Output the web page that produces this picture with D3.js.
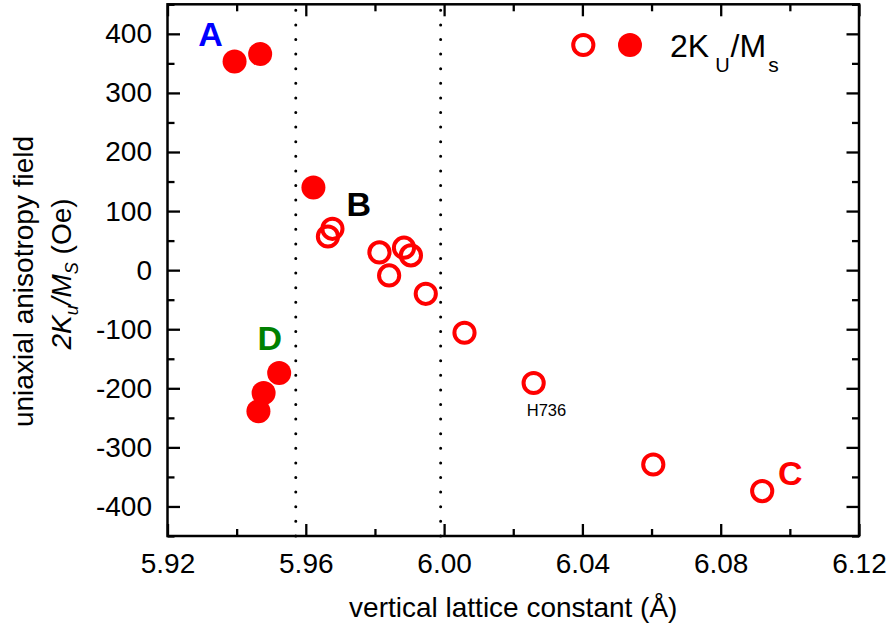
<!DOCTYPE html>
<html>
<head>
<meta charset="utf-8">
<script src="https://cdn.jsdelivr.net/npm/d3@7"></script>
<style>
  body { margin: 0; background: #fff; }
  svg { display: block; }
  text { font-family: "Liberation Sans", Arial, sans-serif; }
</style>
</head>
<body>
<svg id="chart" width="890" height="628"></svg>
<script>
// Open symbols
const openX = [5.9664, 5.9677, 5.9813, 5.9884, 5.9904, 5.9841, 5.9947, 6.0059, 6.0259, 6.0605, 6.0920];
const openY = [57, 70, 30, 38, 25, -9, -40, -106, -191, -329, -374];
// Filled symbols
const filledX = [5.9394, 5.9468, 5.9622, 5.9523, 5.9478, 5.9463];
const filledY = [353, 366, 140, -174, -208, -239];
// Dotted boundaries (vertical lattice constant)
const boundaryX = [5.9571, 5.999];
// Axis ticks
const xTicks = [5.92, 5.96, 6.00, 6.04, 6.08, 6.12];
const xMinor = [5.94, 5.98, 6.02, 6.06, 6.10];
const yTicks = [-400, -300, -200, -100, 0, 100, 200, 300, 400];
const yMinor = [-450, -350, -250, -150, -50, 50, 150, 250, 350, 450];
// Group letters and their anchors (data units)
const groupLabels = ["A", "B", "C", "D"];
const groupColors = ["#0000ff", "#000000", "#ff0000", "#008000"];
const groupLabelX = [5.9289, 5.9718, 6.0966, 5.946];
const groupLabelY = [380, 92, -363, -135];
// Sample name
const sampleLabel = ["H736"];
const sampleLabelX = [6.0239];
const sampleLabelY = [-247];

const RED = "#ff0000";
const svg = d3.select("#chart");

const x = d3.scaleLinear().domain([5.92, 6.12]).range([167.5, 859]);
const y = d3.scaleLinear().domain([-450, 450]).range([536, 4.3]);

const plot = svg.append("g");

// Dotted vertical boundaries
plot.selectAll("line.boundary")
  .data(boundaryX)
  .join("line")
  .attr("class", "boundary")
  .attr("x1", d => x(d)).attr("x2", d => x(d))
  .attr("y1", y(450) + 6).attr("y2", y(-450))
  .attr("stroke", "#000")
  .attr("stroke-width", 3)
  .attr("stroke-linecap", "round")
  .attr("stroke-dasharray", "0,14.6");

// Axes with inward ticks
function styleAxis(g) {
  g.select(".domain").remove();
  g.selectAll(".tick line").attr("stroke", "#000").attr("stroke-width", 2.3);
  g.selectAll("text").attr("font-size", 28).attr("fill", "#000")
    .attr("font-family", "'Liberation Sans', Arial, sans-serif");
}

svg.append("g").attr("transform", `translate(0,${y(-450)})`)
  .call(d3.axisBottom(x).tickValues(xTicks).tickFormat(d => d.toFixed(2))
    .tickSizeInner(-12).tickSizeOuter(0).tickPadding(17))
  .call(styleAxis);
svg.append("g").attr("transform", `translate(0,${y(-450)})`)
  .call(d3.axisBottom(x).tickValues(xMinor).tickFormat("").tickSizeInner(-7).tickSizeOuter(0))
  .call(styleAxis);
svg.append("g").attr("transform", `translate(0,${y(450)})`)
  .call(d3.axisTop(x).tickValues(xTicks).tickFormat("").tickSizeInner(-12).tickSizeOuter(0))
  .call(styleAxis);
svg.append("g").attr("transform", `translate(0,${y(450)})`)
  .call(d3.axisTop(x).tickValues(xMinor).tickFormat("").tickSizeInner(-7).tickSizeOuter(0))
  .call(styleAxis);

svg.append("g").attr("transform", `translate(${x(5.92)},0)`)
  .call(d3.axisLeft(y).tickValues(yTicks).tickFormat(d => String(d))
    .tickSizeInner(-12.5).tickSizeOuter(0).tickPadding(15.5))
  .call(styleAxis);
svg.append("g").attr("transform", `translate(${x(5.92)},0)`)
  .call(d3.axisLeft(y).tickValues(yMinor).tickFormat("").tickSizeInner(-7).tickSizeOuter(0))
  .call(styleAxis);
svg.append("g").attr("transform", `translate(${x(6.12)},0)`)
  .call(d3.axisRight(y).tickValues(yTicks).tickFormat("").tickSizeInner(-12.5).tickSizeOuter(0))
  .call(styleAxis);
svg.append("g").attr("transform", `translate(${x(6.12)},0)`)
  .call(d3.axisRight(y).tickValues(yMinor).tickFormat("").tickSizeInner(-7).tickSizeOuter(0))
  .call(styleAxis);

// Frame
svg.append("rect")
  .attr("x", x(5.92)).attr("y", y(450))
  .attr("width", x(6.12) - x(5.92)).attr("height", y(-450) - y(450))
  .attr("fill", "none").attr("stroke", "#000").attr("stroke-width", 2.5);

// Data points
const openPts = openX.map((v, i) => ({ x: v, y: openY[i] }));
const filledPts = filledX.map((v, i) => ({ x: v, y: filledY[i] }));

plot.selectAll("circle.filled")
  .data(filledPts)
  .join("circle")
  .attr("class", "filled")
  .attr("cx", d => x(d.x)).attr("cy", d => y(d.y))
  .attr("r", 12)
  .attr("fill", RED);

plot.selectAll("circle.open")
  .data(openPts)
  .join("circle")
  .attr("class", "open")
  .attr("cx", d => x(d.x)).attr("cy", d => y(d.y))
  .attr("r", 10.1)
  .attr("fill", "none")
  .attr("stroke", RED)
  .attr("stroke-width", 4);

// Group letters
svg.selectAll("text.group")
  .data(groupLabels)
  .join("text")
  .attr("class", "group")
  .attr("x", (d, i) => x(groupLabelX[i]))
  .attr("y", (d, i) => y(groupLabelY[i]))
  .attr("fill", (d, i) => groupColors[i])
  .attr("font-size", 34)
  .attr("font-weight", "bold")
  .text(d => d);

// Sample name
svg.selectAll("text.sample")
  .data(sampleLabel)
  .join("text")
  .attr("class", "sample")
  .attr("x", (d, i) => x(sampleLabelX[i]))
  .attr("y", (d, i) => y(sampleLabelY[i]))
  .attr("font-size", 16.5)
  .attr("fill", "#000")
  .text(d => d);

// Legend
const legend = svg.append("g");
legend.append("circle").attr("cx", 583.3).attr("cy", 45).attr("r", 10.1)
  .attr("fill", "none").attr("stroke", RED).attr("stroke-width", 4);
legend.append("circle").attr("cx", 630).attr("cy", 45).attr("r", 12).attr("fill", RED);
const lt = legend.append("text").attr("x", 670).attr("y", 57.3).attr("font-size", 32).attr("fill", "#000");
lt.append("tspan").text("2K");
lt.append("tspan").attr("font-size", 20).attr("dx", 6).attr("dy", 14.5).text("U");
lt.append("tspan").attr("dx", 1).attr("dy", -14.5).text("/M");
lt.append("tspan").attr("font-size", 21).attr("dx", 2).attr("dy", 14.5).text("s");

// Axis titles
svg.append("text")
  .attr("x", (x(5.92) + x(6.12)) / 2).attr("y", 616.5)
  .attr("text-anchor", "middle").attr("font-size", 28).attr("fill", "#000")
  .text("vertical lattice constant (Å)");

svg.append("text")
  .attr("transform", "translate(33.3,281.5) rotate(-90)")
  .attr("text-anchor", "middle").attr("font-size", 28).attr("fill", "#000")
  .text("uniaxial anisotropy field");

const yt2 = svg.append("text")
  .attr("transform", "translate(71,274) rotate(-90)")
  .attr("text-anchor", "middle").attr("font-size", 28).attr("fill", "#000");
yt2.append("tspan").attr("font-style", "italic").text("2K");
yt2.append("tspan").attr("font-style", "italic").attr("font-size", 18).attr("dy", 7).text("u");
yt2.append("tspan").attr("font-style", "italic").attr("dy", -7).text("/M");
yt2.append("tspan").attr("font-style", "italic").attr("font-size", 18).attr("dy", 7).text("S");
yt2.append("tspan").attr("dy", -7).text(" (Oe)");
</script>
</body>
</html>
